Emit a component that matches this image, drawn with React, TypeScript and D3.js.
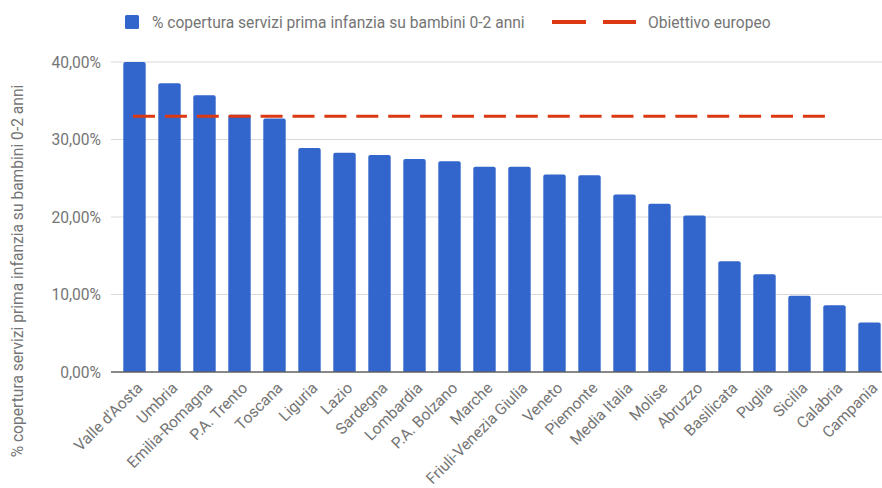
import React from "react";
import * as d3 from "d3";

const regions = [
  "Valle d'Aosta", "Umbria", "Emilia-Romagna", "P.A. Trento", "Toscana", "Liguria",
  "Lazio", "Sardegna", "Lombardia", "P.A. Bolzano", "Marche", "Friuli-Venezia Giulia",
  "Veneto", "Piemonte", "Media Italia", "Molise", "Abruzzo", "Basilicata", "Puglia",
  "Sicilia", "Calabria", "Campania",
];
const coverage = [
  0.400, 0.3725, 0.357, 0.332, 0.327, 0.289, 0.283, 0.280, 0.275, 0.272, 0.265,
  0.265, 0.255, 0.254, 0.229, 0.217, 0.202, 0.143, 0.126, 0.0985, 0.086, 0.064,
];
const target: (number | null)[] = [
  0.33, 0.33, 0.33, 0.33, 0.33, 0.33, 0.33, 0.33, 0.33, 0.33, 0.33,
  0.33, 0.33, 0.33, 0.33, 0.33, 0.33, 0.33, 0.33, 0.33, 0.33, null,
];
const yTicks = [0, 0.1, 0.2, 0.3, 0.4];
const seriesNames = ["% copertura servizi prima infanzia su bambini 0-2 anni", "Obiettivo europeo"];

const BLUE = "#3366cc";
const RED = "#dc3912";
const TEXT = "#757575";
const FONT = "Roboto, Arial, sans-serif";
const FS = 15.6;

export default function App() {
  const W = 882, H = 488;
  const x = d3.scaleBand<string>().domain(regions).range([117, 887]).paddingInner(0.36).paddingOuter(0.18);
  const y = d3.scaleLinear().domain([0, 0.4]).range([372, 62]);
  const fmt = (v: number) => (v * 100).toFixed(2).replace(".", ",") + "%";
  const line = d3.line<number | null>()
    .defined((d) => d !== null)
    .x((_, i) => (x(regions[i]) as number) + x.bandwidth() / 2 - 1.5)
    .y((d) => y(d as number));
  const bw = x.bandwidth();
  const r = 2;
  return (
    <svg width={W} height={H} style={{ position: "absolute", left: 0, top: 0 }} fontFamily={FONT}>
      <rect width={W} height={H} fill="#fff" />
      {yTicks.map((t) => (
        <g key={t}>
          {t > 0 && <line x1={111} x2={W} y1={y(t)} y2={y(t)} stroke="#d9d9d9" strokeWidth={1} />}
          <text x={101} y={y(t) + 5.5} textAnchor="end" fontSize={FS} fill={TEXT}>{fmt(t)}</text>
        </g>
      ))}
      {coverage.map((v, i) => {
        const x0 = x(regions[i]) as number;
        const y0 = y(v), y1 = y(0);
        const d = `M${x0},${y1} V${y0 + r} Q${x0},${y0} ${x0 + r},${y0} H${x0 + bw - r} Q${x0 + bw},${y0} ${x0 + bw},${y0 + r} V${y1} Z`;
        return <path key={regions[i]} d={d} fill={BLUE} />;
      })}
      <line x1={111} x2={W} y1={y(0)} y2={y(0)} stroke="#616161" strokeWidth={1.3} />
      <path d={line(target) || ""} fill="none" stroke={RED} strokeWidth={3} strokeDasharray="22,9.9" />
      {regions.map((name) => {
        const cx = (x(name) as number) + bw / 2;
        return (
          <text key={name} transform={`translate(${cx + 9},${389}) rotate(-45)`} textAnchor="end" fontSize={FS} fill={TEXT}>
            {name}
          </text>
        );
      })}
      <text transform={`translate(23,271) rotate(-90)`} textAnchor="middle" fontSize={FS} fill={TEXT}>
        {seriesNames[0]}
      </text>
      <rect x={125} y={15} width={14} height={14} rx={1.5} fill={BLUE} />
      <text x={152} y={27.5} fontSize={FS} fill={TEXT}>{seriesNames[0]}</text>
      <line x1={552} x2={586} y1={22} y2={22} stroke={RED} strokeWidth={4} />
      <line x1={603} x2={636} y1={22} y2={22} stroke={RED} strokeWidth={4} />
      <text x={648} y={27.5} fontSize={FS} fill={TEXT}>{seriesNames[1]}</text>
    </svg>
  );
}
